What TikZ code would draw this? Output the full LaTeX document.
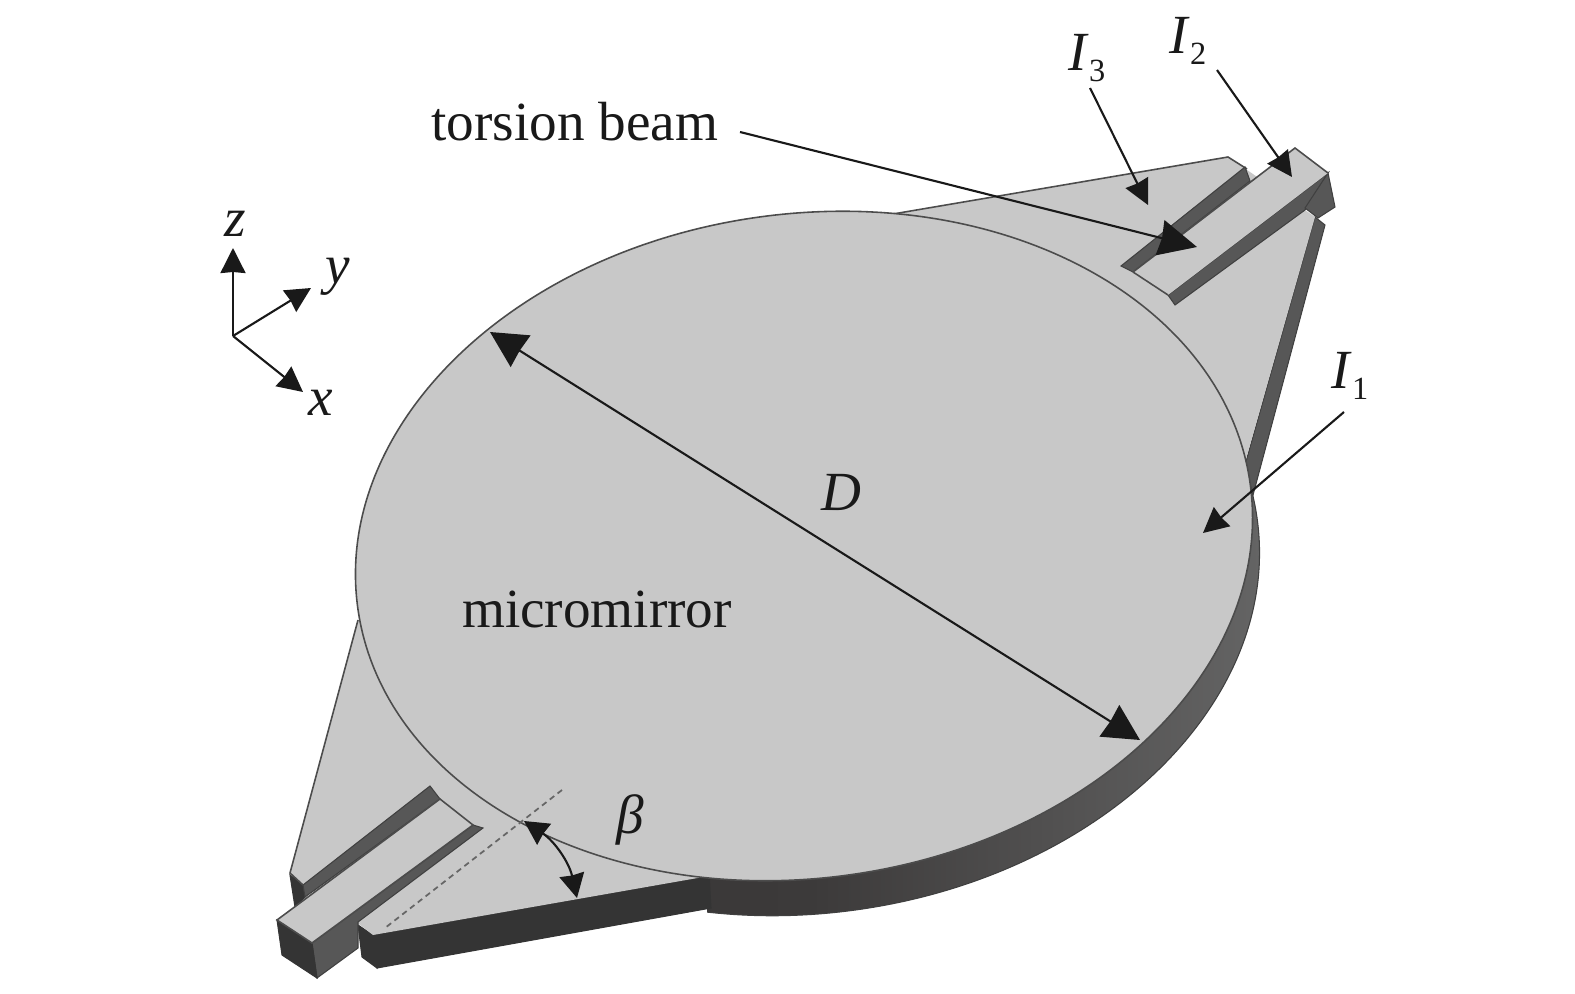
\documentclass[tikz,border=0pt]{standalone}
\usepackage{fontspec}
\setmainfont{Liberation Serif}
\usetikzlibrary{arrows.meta}

\definecolor{mirrorgray}{HTML}{C8C8C8}
\definecolor{wallgray}{HTML}{575757}
\definecolor{frontgray}{HTML}{343434}
\definecolor{rimleft}{HTML}{353333}
\definecolor{rimmid}{HTML}{3C3A3A}
\definecolor{rimright}{HTML}{666666}

\tikzset{lbl/.style={font=\fontsize{15.7pt}{18pt}\selectfont,inner sep=0pt,text=black!90}}
\tikzset{top/.style={fill=mirrorgray,draw=none}}
\tikzset{wall/.style={fill=wallgray,draw=black!75,line width=0.3pt}}
\tikzset{front/.style={fill=frontgray,draw=frontgray,line width=0.3pt}}
\tikzset{edgeline/.style={draw=black!70,line width=0.45pt}}
\tikzset{callout/.style={draw=black!90,line width=0.6pt,-{Stealth[length=0.25cm,width=0.25cm,inset=0.01cm]}}}
\tikzset{bigcallout/.style={draw=black!90,line width=0.6pt,-{Stealth[length=0.38cm,width=0.36cm,inset=0.02cm]}}}
\tikzset{dimline/.style={draw=black!90,line width=0.6pt,{Stealth[length=0.36cm,width=0.37cm,inset=0.01cm]}-{Stealth[length=0.36cm,width=0.37cm,inset=0.01cm]}}}
\tikzset{anglearrow/.style={draw=black!90,line width=0.6pt,{Stealth[length=0.24cm,width=0.25cm,inset=0.01cm]}-{Stealth[length=0.24cm,width=0.25cm,inset=0.01cm]}}}
\newcommand{\cursub}[1]{\textit{I}\raisebox{-3pt}{\fontsize{9.2pt}{10pt}\selectfont #1}}

\begin{document}
\begin{tikzpicture}[x=0.01cm,y=-0.01cm]
    \useasboundingbox (0,0) rectangle (1575,994);
    \coordinate (cen) at (804,546);

    % rim of the disc
    \begin{scope}
      \clip (707,480) rectangle (1300,994);
      \shade[left color=rimleft,right color=rimright,middle color=rimmid,draw=black!75,line width=0.3pt]
        (811,581) ellipse [x radius=450.5,y radius=332,rotate=8];
    \end{scope}

    % upper tab
    \draw[wall] (1315,217) -- (1325,225) -- (1253,495) -- (1245,465) -- cycle;
    \fill[top] (885,216) -- (1228,157) -- (1250,172) -- (1315,217) -- (1240,480) -- (900,450) -- cycle;
    \draw[edgeline] (893,214) -- (1228,157) -- (1247,169);
    \draw[wall] (1245,167) -- (1250,181) -- (1133,272) -- (1121,266) -- cycle;
    \draw[wall] (1168,295) -- (1175,305) -- (1305,210) -- (1328,173) -- cycle;
    \draw[wall] (1328,173) -- (1335,207) -- (1318,218) -- (1305,208) -- cycle;
    \fill[top] (1133,272) -- (1295,148) -- (1328,173) -- (1168,295) -- cycle;
    \draw[edgeline] (1133,272) -- (1295,148) -- (1328,173);
    \draw[edgeline] (1133,272) -- (1168,295);

    % lower tab
    \fill[front] (290,875) -- (303,885) -- (305,897) -- (295,907) -- cycle;
    \draw[front] (358,925) -- (373,935) -- (377,968) -- (362,957) -- cycle;
    \draw[front] (373,935) -- (709,876) -- (711,908) -- (377,968) -- cycle;
    \fill[top] (358,620) -- (290,873) -- (303,885) -- (360,925)
      -- (373,935) -- (709,876) -- (750,600) -- cycle;
    \draw[edgeline] (358,620) -- (290,873) -- (303,885);
    \draw[wall] (430,786) -- (440,799) -- (305,897) -- (303,885) -- cycle;
    \draw[wall] (473,825) -- (483,828) -- (358,922) -- (358,948) -- (317,978) -- (312,943) -- cycle;
    \draw[front] (277,920) -- (312,943) -- (317,978) -- (282,955) -- cycle;
    \fill[top] (277,920) -- (440,799) -- (473,825) -- (312,943) -- cycle;
    \draw[edgeline] (277,920) -- (440,799) -- (473,825) -- (312,943) -- cycle;

    % disc
    \draw[top,edgeline] (cen) ellipse [x radius=450.5,y radius=332,rotate=8];

    % dashed axis and angle
    \coordinate (dasha) at (562,790);
    \coordinate (dashb) at (385,928);
    \draw[draw=black!60,line width=0.5pt,dash pattern=on 1.6pt off 1.2pt] (dasha) -- (dashb);
    \coordinate (anga) at (524,821);
    \coordinate (angb) at (577,898);
    \draw[anglearrow] (anga) to[bend left=22] (angb);

    % axes
    \coordinate (orig) at (233,336);
    \coordinate (zend) at (233,248);
    \coordinate (yend) at (311,288);
    \coordinate (xend) at (303,392);
    \draw[callout] (orig) -- (zend);
    \draw[callout] (orig) -- (yend);
    \draw[callout] (orig) -- (xend);
    \node[lbl] (nz) at (235,224) {\textit{z}};
    \node[lbl] (ny) at (338,277) {\textit{y}};
    \node[lbl] (nx) at (321,403) {\textit{x}};

    % labels
    \node[lbl] (nbeam) at (575,122) {torsion beam};
    \node[lbl] (nmirror) at (597,609) {micromirror};
    \node[lbl] (nD) at (841,492) {\textit{D}};
    \node[lbl] (nbeta) at (630,820) {\textit{β}};
    \node[lbl] (nIi) at (1350,376) {\cursub{1}};
    \node[lbl] (nIii) at (1188,41) {\cursub{2}};
    \node[lbl] (nIiii) at (1087,58) {\cursub{3}};

    \coordinate (beamfrom) at (740,132);
    \coordinate (beamto) at (1197,247);
    \coordinate (ithreefrom) at (1090,88);
    \coordinate (ithreeto) at (1148,205);
    \coordinate (itwofrom) at (1217,70);
    \coordinate (itwoto) at (1292,177);
    \coordinate (ionefrom) at (1344,412);
    \coordinate (ioneto) at (1203,533);
    \coordinate (dima) at (490,332);
    \coordinate (dimb) at (1140,740);
    \draw[bigcallout] (beamfrom) -- (beamto);
    \draw[callout] (ithreefrom) -- (ithreeto);
    \draw[callout] (itwofrom) -- (itwoto);
    \draw[callout] (ionefrom) -- (ioneto);
    \draw[dimline] (dima) -- (dimb);
\end{tikzpicture}
\end{document}
